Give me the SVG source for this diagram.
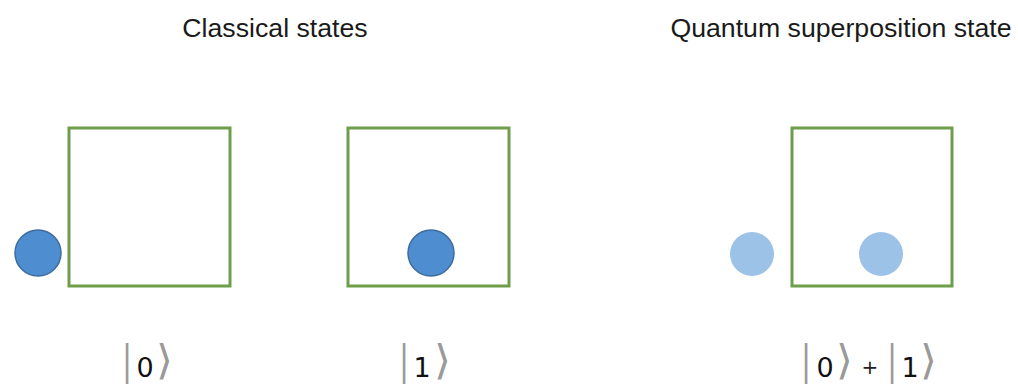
<svg xmlns="http://www.w3.org/2000/svg" width="1018" height="385" viewBox="0 0 1018 385">
<style>
.title{font-family:"Liberation Sans",Arial,sans-serif;font-size:26.7px;fill:#1a1a1a;text-anchor:middle}
.box{fill:#ffffff;stroke:#6e9e4b;stroke-width:3}
.ball{fill:#4e8dd0;stroke:#3e6c9e;stroke-width:1.5}
.ghost{fill:#9dc2e7}
.dig{font-family:"DejaVu Sans",sans-serif;font-size:27px;fill:#111;text-anchor:middle}
.plus{font-family:"DejaVu Sans",sans-serif;font-size:20px;fill:#222;text-anchor:middle}
.delim{font-family:"DejaVu Sans",sans-serif;font-size:30px;fill:#9a9a9a}
</style>
<rect width="1018" height="385" fill="#ffffff"/>
<g id="title-classical"><text class="title" x="275" y="37">Classical states</text></g>
<g id="title-quantum"><text class="title" x="841" y="37">Quantum superposition state</text></g>
<g id="state0">
<rect class="box" x="69" y="128" width="161" height="158"/>
<circle class="ball" cx="38" cy="253" r="23"/>
</g>
<g id="state1">
<rect class="box" x="348" y="128" width="161" height="158"/>
<circle class="ball" cx="431" cy="253" r="23"/>
</g>
<g id="superposition">
<rect class="box" x="792" y="128" width="160" height="158"/>
<circle class="ghost" cx="752" cy="254" r="22"/>
<circle class="ghost" cx="881" cy="254" r="22"/>
</g>
<g id="ket0">
<text class="delim" transform="translate(122,374) scale(1,1.37)">|</text>
<text class="dig" x="145" y="377">0</text>
<text class="delim" transform="translate(156,374) scale(1.45,1.37)">⟩</text>
</g>
<g id="ket1">
<text class="delim" transform="translate(399,374) scale(1,1.37)">|</text>
<text class="dig" x="422" y="377">1</text>
<text class="delim" transform="translate(434,374) scale(1.45,1.37)">⟩</text>
</g>
<g id="ket-sum">
<text class="delim" transform="translate(801,374) scale(1,1.37)">|</text>
<text class="dig" x="825" y="377">0</text>
<text class="delim" transform="translate(836,374) scale(1.45,1.37)">⟩</text>
<text class="plus" x="870" y="374">+</text>
<text class="delim" transform="translate(887,374) scale(1,1.37)">|</text>
<text class="dig" x="910" y="377">1</text>
<text class="delim" transform="translate(920,374) scale(1.45,1.37)">⟩</text>
</g>
</svg>
